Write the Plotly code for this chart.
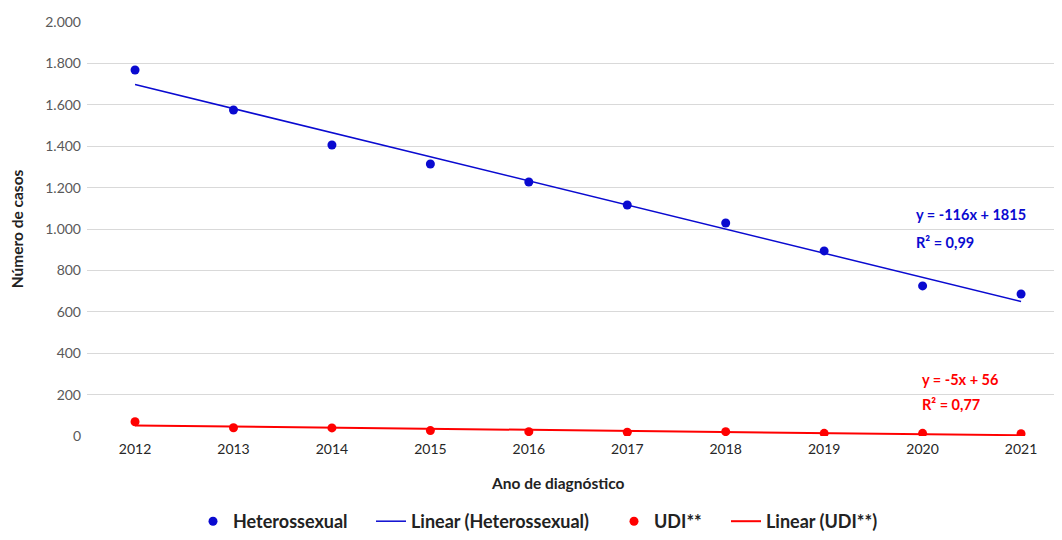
import numpy as np
import plotly.graph_objects as go

years = [2012, 2013, 2014, 2015, 2016, 2017, 2018, 2019, 2020, 2021]
hetero = [1768, 1575, 1406, 1314, 1227, 1116, 1029, 894, 725, 686]
udi = [69, 40, 39, 26, 21, 18, 21, 13, 13, 11]
y_ticks = [0, 200, 400, 600, 800, 1000, 1200, 1400, 1600, 1800, 2000]

idx = np.arange(1, len(years) + 1)
ph = np.polyfit(idx, hetero, 1)
pu = np.polyfit(idx, udi, 1)
trend_h = np.polyval(ph, idx)
trend_u = np.polyval(pu, idx)

BLUE = "#0a0ad0"
RED = "#ff0000"
FONT = "Lato"
W, H = 1054, 532
L, B = 79, 104

fig = go.Figure()
fig.add_trace(go.Scatter(x=years, y=hetero, mode="markers", name="Heterossexual",
                         marker=dict(color=BLUE, size=9), legend="legend"))
fig.add_trace(go.Scatter(x=years, y=trend_h, mode="lines", name="Linear (Heterossexual)",
                         line=dict(color=BLUE, width=1.5), legend="legend2"))
fig.add_trace(go.Scatter(x=years, y=udi, mode="markers", name="UDI**",
                         marker=dict(color=RED, size=9), legend="legend3"))
fig.add_trace(go.Scatter(x=years, y=trend_u, mode="lines", name="Linear (UDI**)",
                         line=dict(color=RED, width=2), legend="legend4"))

ann_font_b = dict(family=FONT, size=14.5, color=BLUE, weight="bold")
ann_font_r = dict(family=FONT, size=14.5, color=RED, weight="bold")
fig.add_annotation(x=2019.91, y=1068, text="y = -116x + 1815", showarrow=False,
                   xanchor="left", font=ann_font_b)
fig.add_annotation(x=2019.91, y=937, text="R² = 0,99", showarrow=False,
                   xanchor="left", font=ann_font_b)
fig.add_annotation(x=2019.97, y=275, text="y = -5x + 56", showarrow=False,
                   xanchor="left", font=ann_font_r)
fig.add_annotation(x=2019.97, y=150, text="R² = 0,77", showarrow=False,
                   xanchor="left", font=ann_font_r)
# x-axis title
fig.add_annotation(xref="paper", yref="paper", x=(550 - L) / (W - L), y=0,
                   yshift=-47, xanchor="center", yanchor="middle", showarrow=False,
                   text="Ano de diagnóstico",
                   font=dict(family=FONT, size=15.5, color="#222222", weight="bold"))

def leg(xpix):
    return dict(orientation="h", xref="container", yref="container",
                x=xpix / W, xanchor="left", y=-5 / H, yanchor="bottom",
                font=dict(family=FONT, size=18, color="#222222", weight="bold"),
                bgcolor="rgba(0,0,0,0)")

fig.update_layout(
    width=W, height=H,
    margin=dict(l=L, r=0, t=14, b=B),
    paper_bgcolor="white", plot_bgcolor="white",
    separators=",.",
    font=dict(family=FONT, size=14, color="#333333"),
    showlegend=True,
    legend=leg(185), legend2=leg(363), legend3=leg(606), legend4=leg(718),
    xaxis=dict(range=[2011.512, 2021.416], tickmode="array", tickvals=years,
               ticktext=[str(y) for y in years], showgrid=False, zeroline=False,
               showline=False, ticks="", ticklabelstandoff=3,
               tickfont=dict(size=14, color="#262626")),
    yaxis=dict(range=[0, 2000], tickmode="array", tickvals=y_ticks,
               tickformat=",d", showgrid=True, gridcolor="#d9d9d9", gridwidth=1,
               zeroline=False, showline=False, ticks="", ticklabelstandoff=5,
               tickfont=dict(size=14, color="#595959"),
               title=dict(text="Número de casos", standoff=17,
                          font=dict(size=15.5, color="#222222", weight="bold"))),
)
fig.write_html("out.html")
